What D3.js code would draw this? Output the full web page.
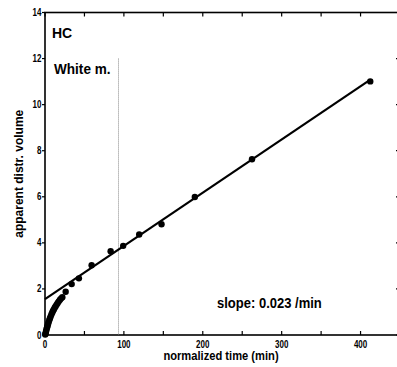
<!DOCTYPE html>
<html><head><meta charset="utf-8">
<script src="https://cdn.jsdelivr.net/npm/d3@7"></script>
<style>body{margin:0;background:#fff;} text{font-family:"Liberation Sans",Arial,sans-serif;}</style>
</head><body><svg id="c" width="397" height="367"></svg>
<script>
const timeX = [0.3,0.7,1.1,1.6,2.1,2.7,3.3,4.0,4.7,5.5,6.3,7.2,8.1,9.1,10.1,11.2,12.3,13.5,14.8,16.1,17.5,19.0,20.5,22.0,26.2,33.8,43.0,59.1,83.2,99.1,119.4,147.7,189.9,262.4,412.3];
const volumeY = [0.02,0.07,0.13,0.20,0.27,0.34,0.41,0.49,0.57,0.65,0.73,0.81,0.89,0.97,1.04,1.11,1.18,1.25,1.32,1.39,1.46,1.53,1.59,1.64,1.88,2.21,2.46,3.03,3.64,3.87,4.36,4.81,5.99,7.63,11.01];
const fitIntercept = 1.56, fitSlope = 0.0231, fitRange = [0, 412];
const whiteMatterX = 92.8, whiteMatterTop = 12;
const xTicks = [0,50,100,150,200,250,300,350,400,450];
const xTickLabels = [0,100,200,300,400];
const yTicks = [0,2,4,6,8,10,12,14];

const svg = d3.select("#c");
const L=45, R=400, T=12.5, B=335;
const x = d3.scaleLinear().domain([0,450]).range([L,R]);
const y = d3.scaleLinear().domain([0,14]).range([B,T]);
const TS = 0.93;

svg.append("rect").attr("x",L).attr("y",T).attr("width",R-L).attr("height",B-T)
  .attr("fill","none").attr("stroke","#000").attr("stroke-width",1.6);

const tk = svg.append("g").attr("stroke","#000").attr("stroke-width",1.2);
xTicks.forEach(v=>{
  tk.append("line").attr("x1",x(v)).attr("x2",x(v)).attr("y1",B).attr("y2",B-4);
  tk.append("line").attr("x1",x(v)).attr("x2",x(v)).attr("y1",T).attr("y2",T+4);
});
yTicks.forEach(v=>{
  tk.append("line").attr("x1",L).attr("x2",L-3).attr("y1",y(v)).attr("y2",y(v));
  tk.append("line").attr("x1",R).attr("x2",R-4).attr("y1",y(v)).attr("y2",y(v));
});

function txt(s,px,py,size,anchor,sx){
  return svg.append("text").text(s)
    .attr("transform",`translate(${px},${py}) scale(${sx},1)`)
    .attr("font-size",size).attr("font-weight","bold").attr("text-anchor",anchor).attr("fill","#000");
}
xTickLabels.forEach(v=>txt(String(v),x(v),348,10,"middle",0.8));
yTicks.forEach(v=>txt(String(v),L-3.5,y(v)+3.5,10,"end",0.8));

txt("normalized time (min)",221,360,12,"middle",TS);
svg.append("text").text("apparent distr. volume")
  .attr("transform",`translate(23,${y(7)}) rotate(-90)`)
  .attr("font-size",12).attr("font-weight","bold").attr("text-anchor","middle");

svg.append("line").attr("x1",Math.round(x(whiteMatterX))+0.5).attr("x2",Math.round(x(whiteMatterX))+0.5)
  .attr("y1",y(whiteMatterTop)).attr("y2",y(0))
  .attr("stroke","#888").attr("stroke-width",1).attr("stroke-dasharray","1,1");

svg.append("line").attr("x1",x(fitRange[0])).attr("y1",y(fitIntercept+fitSlope*fitRange[0]))
  .attr("x2",x(fitRange[1])).attr("y2",y(fitIntercept+fitSlope*fitRange[1]))
  .attr("stroke","#000").attr("stroke-width",2.2);

svg.append("g").selectAll("circle").data(timeX).join("circle")
  .attr("cx",d=>x(d)).attr("cy",(d,i)=>y(volumeY[i])).attr("r",3.2).attr("fill","#000");

txt("HC",52,38,14,"start",1);
txt("White m.",54,74,14,"start",TS+0.04);
txt("slope: 0.023 /min",217,308,14,"start",TS);
</script></body></html>
